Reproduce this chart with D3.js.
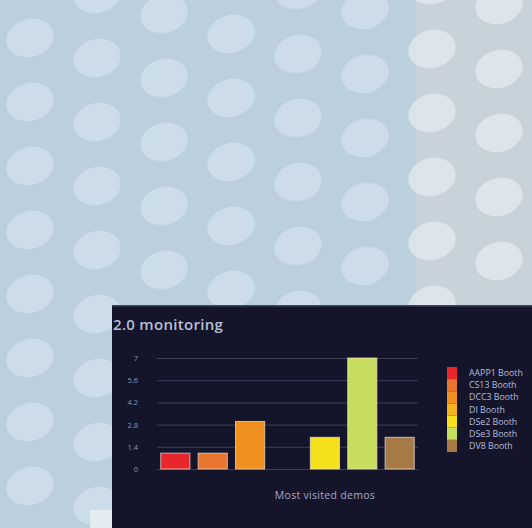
<!DOCTYPE html>
<html><head><meta charset="utf-8">
<script src="https://cdn.jsdelivr.net/npm/d3@7"></script>
<style>html,body{margin:0;padding:0;background:#bdd0de;}svg{display:block}</style>
</head><body>
<script>
const categories = ["AAPP1 Booth","CS13 Booth","DCC3 Booth","DI Booth","DSe2 Booth","DSe3 Booth","DV8 Booth"];
const visits = [1, 1, 3, 0, 2, 7, 2];
const colors = ["#e8262c","#e8762e","#f0901f","#f5b41c","#f4e11c","#c6dd5e","#a57a46"];
const yTicks = [0, 1.4, 2.8, 4.2, 5.6, 7];
const title = "2.0 monitoring";
const xTitle = "Most visited demos";

const W = 532, H = 528;
const svg = d3.select("body").append("svg").attr("width", W).attr("height", H);

// photographed backdrop
svg.append("rect").attr("width", W).attr("height", H).attr("fill", "#bccfdd");
svg.append("rect").attr("x", 416).attr("width", W-416).attr("height", H).attr("fill", "#c8d2db");
const dots = [];
for (let i = -1; i < 9; i++) for (let j = -2; j < 10; j++) {
  dots.push({cx: 30 + i*67, cy: 38 + i*20 + j*64 - (i>=6? 45:0)});
}
svg.append("g").selectAll("ellipse").data(dots).join("ellipse")
  .attr("cx", d => d.cx).attr("cy", d => d.cy).attr("rx", 24).attr("ry", 19)
  .attr("transform", d => `rotate(-15 ${d.cx} ${d.cy})`)
  .attr("fill", d => d.cx > 420 ? "rgba(236,240,245,0.6)" : "rgba(222,234,245,0.5)");
svg.append("rect").attr("x", 90).attr("y", 510).attr("width", 24).attr("height", 18).attr("fill", "#e4ebf1");

// screen panel
const panel = svg.append("g").attr("transform", "translate(112,305)");
panel.append("rect").attr("width", W-112).attr("height", H-305).attr("fill", "#14152b");
panel.append("rect").attr("width", W-112).attr("height", 1.5).attr("fill", "#6f7590").attr("opacity", 0.5);

svg.append("text").attr("x", 113).attr("y", 330).text(title)
  .attr("font-family", "Open Sans, sans-serif").attr("font-size", 15).attr("font-weight", 600)
  .attr("letter-spacing", 0.3).attr("fill", "#b9bed4");

const x = d3.scaleBand().domain(categories).range([157, 418]).paddingInner(0.22).paddingOuter(0.1);
const y = d3.scaleLinear().domain([0, 7]).range([469, 358]);

const gy = svg.append("g").attr("transform", "translate(157,0)")
  .call(d3.axisLeft(y).tickValues(yTicks).tickSize(-261).tickPadding(19).tickFormat(d3.format("~g")));
gy.select(".domain").remove();
gy.selectAll("line").attr("stroke", "#3c3e5a").attr("stroke-width", 1);
gy.selectAll("text").attr("fill", "#8f93b4").attr("font-family", "Open Sans, sans-serif").attr("font-size", 7.5);

svg.append("g").selectAll("rect").data(categories).join("rect")
  .attr("x", d => x(d)).attr("width", x.bandwidth())
  .attr("y", (d,i) => y(visits[i])).attr("height", (d,i) => y(0) - y(visits[i]))
  .attr("fill", (d,i) => colors[i])
  .attr("stroke", "#f3e6d6").attr("stroke-opacity", 0.7).attr("stroke-width", 1);

svg.append("text").attr("x", 325).attr("y", 499).attr("text-anchor", "middle").text(xTitle)
  .attr("font-family", "Open Sans, sans-serif").attr("font-size", 10.5).attr("letter-spacing", 0.3)
  .attr("fill", "#a6a9c6");

const lg = svg.append("g");
const ly = d3.scaleBand().domain(categories).range([367, 452]);
lg.selectAll("rect").data(categories).join("rect")
  .attr("x", 447).attr("y", d => ly(d)).attr("width", 10).attr("height", ly.bandwidth())
  .attr("fill", (d,i) => colors[i]);
lg.selectAll("text").data(categories).join("text")
  .attr("x", 469).attr("y", d => ly(d) + ly.bandwidth()/2 + 3).text(d => d)
  .attr("font-family", "Open Sans, sans-serif").attr("font-size", 8.8).attr("fill", "#b8bcdc");
</script>
</body></html>
